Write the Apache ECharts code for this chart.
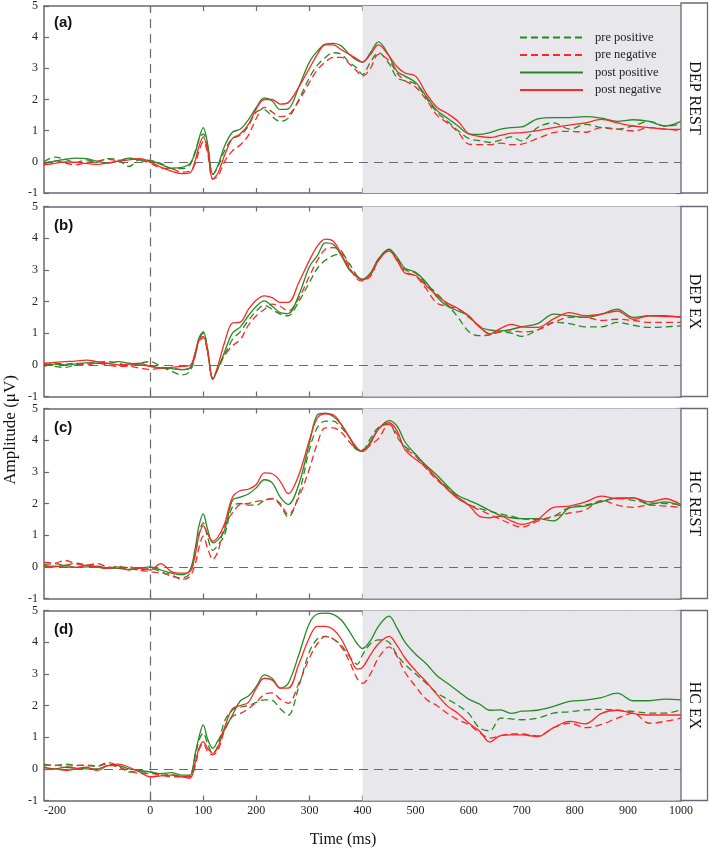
<!DOCTYPE html>
<html>
<head>
<meta charset="utf-8">
<script src="https://cdn.jsdelivr.net/npm/echarts@6/dist/echarts.min.js"></script>
<style>html,body{margin:0;padding:0;background:#fff}#c{width:709px;height:857px}</style>
</head>
<body>
<div id="c"></div>
<script>
// ---- data ----
const T = [-200,-180,-160,-140,-120,-100,-80,-60,-40,-20,
  0,20,40,60,75,85,92,100,108,118,
  128,140,155,170,185,200,215,230,245,260,
  280,300,315,330,345,360,375,390,400,415,
  430,450,465,480,500,520,540,560,580,600,
  620,640,660,680,700,730,760,790,820,850,
  880,910,940,970,1000];

const panelNames = ['DEP REST','DEP EX','HC REST','HC EX'];
const panelTags = ['(a)','(b)','(c)','(d)'];
const seriesNames = ['pre positive','pre negative','post positive','post negative'];
const xTickValues = [0,100,200,300,400,500,600,700,800,900,1000];
const xLabelValues = [-200,0,100,200,300,400,500,600,700,800,900,1000];
const shadeRange = [400,1000];

// Panel (a) DEP REST
const A_prePos = [0.0,0.15,0.08,-0.02,0.06,0.0,0.1,0.06,-0.15,0.06,
  0.04,-0.05,-0.22,-0.22,-0.1,0.35,0.7,0.9,0.5,-0.4,
  -0.15,0.35,0.75,0.85,1.15,1.6,1.67,1.45,1.3,1.4,
  2.0,2.7,3.1,3.35,3.5,3.45,3.2,3.0,2.8,3.2,
  3.5,3.15,2.7,2.6,2.5,2.05,1.6,1.3,1.0,0.75,
  0.68,0.62,0.7,0.8,0.67,1.1,1.25,1.05,1.2,1.1,
  1.05,1.15,1.3,1.15,1.2];
const A_preNeg = [-0.06,0.04,-0.04,-0.1,-0.02,0.02,0.08,0.04,0.12,0.05,
  -0.04,-0.2,-0.22,-0.33,-0.3,-0.05,0.35,0.65,0.3,-0.55,
  -0.45,0.0,0.35,0.55,0.85,1.4,1.75,1.6,1.45,1.5,
  1.95,2.55,2.95,3.2,3.35,3.35,3.15,2.9,2.75,3.0,
  3.45,3.25,2.85,2.6,2.4,2.0,1.5,1.25,0.95,0.57,
  0.55,0.55,0.6,0.55,0.57,0.75,0.94,0.98,0.95,1.1,
  1.05,0.99,1.1,1.05,1.0];
const A_postPos = [-0.06,0.02,0.08,0.12,0.1,0.02,-0.04,0.02,0.12,0.06,
  0.04,-0.08,-0.2,-0.18,-0.05,0.3,0.75,1.1,0.6,-0.4,
  -0.1,0.5,0.95,1.05,1.35,1.75,2.05,1.95,1.68,1.7,
  2.4,3.2,3.55,3.78,3.8,3.72,3.45,3.25,3.2,3.5,
  3.85,3.4,2.9,2.75,2.55,2.1,1.65,1.4,1.15,0.9,
  0.88,0.94,1.05,1.1,1.12,1.38,1.42,1.42,1.45,1.4,
  1.3,1.35,1.3,1.15,1.3];
const A_postNeg = [-0.1,-0.05,0.0,-0.02,-0.05,-0.08,-0.04,0.02,0.06,0.1,
  0.0,-0.17,-0.3,-0.38,-0.35,0.05,0.5,0.8,0.4,-0.55,
  -0.35,0.2,0.75,0.9,1.2,1.7,2.0,2.0,1.85,1.9,
  2.4,3.0,3.45,3.75,3.75,3.6,3.45,3.3,3.2,3.45,
  3.75,3.4,3.05,2.85,2.75,2.2,1.75,1.55,1.3,0.9,
  0.82,0.78,0.85,0.92,0.94,1.0,1.1,1.18,1.25,1.36,
  1.25,1.15,1.1,1.05,1.04];

// Panel (b) DEP EX
const B_prePos = [0.05,-0.05,-0.08,0.0,0.05,0.08,0.1,0.05,-0.02,0.05,
  0.1,-0.05,-0.2,-0.32,-0.2,0.3,0.8,1.0,0.5,-0.4,
  -0.1,0.3,0.8,1.05,1.4,1.7,1.88,1.75,1.6,1.55,
  2.0,2.6,3.05,3.3,3.45,3.5,3.2,2.8,2.7,2.85,
  3.3,3.65,3.35,3.0,2.9,2.55,2.25,1.9,1.5,1.05,
  0.92,0.95,1.04,1.0,0.9,1.1,1.34,1.3,1.2,1.2,
  1.34,1.25,1.18,1.2,1.23];
const B_preNeg = [0.0,0.05,0.02,0.05,0.0,0.05,0.0,-0.05,-0.05,-0.1,
  -0.15,-0.1,-0.1,-0.15,-0.1,0.3,0.75,0.85,0.4,-0.45,
  -0.1,0.3,0.6,0.8,1.25,1.55,1.75,1.92,1.85,1.7,
  2.1,2.8,3.3,3.65,3.7,3.6,3.1,2.7,2.65,2.8,
  3.3,3.6,3.3,2.95,2.8,2.4,1.95,1.85,1.76,1.5,
  1.23,0.97,1.05,1.07,1.04,1.1,1.34,1.5,1.5,1.4,
  1.44,1.4,1.34,1.34,1.34];
const B_postPos = [-0.05,0.02,0.0,0.03,0.06,0.05,0.04,0.1,0.05,0.0,
  -0.04,-0.1,-0.12,-0.15,-0.1,0.4,0.85,1.05,0.5,-0.45,
  -0.1,0.4,1.0,1.2,1.55,1.85,2.02,1.85,1.65,1.62,
  2.2,3.1,3.45,3.85,3.8,3.45,3.0,2.8,2.7,2.9,
  3.35,3.65,3.4,3.05,2.92,2.6,2.15,1.85,1.7,1.55,
  1.2,1.1,1.07,1.12,1.2,1.3,1.6,1.55,1.5,1.6,
  1.76,1.5,1.55,1.55,1.5];
const B_postNeg = [0.05,0.08,0.1,0.12,0.15,0.1,0.05,0.0,0.02,0.05,
  -0.05,-0.1,-0.08,-0.05,-0.02,0.37,0.8,0.9,0.45,-0.45,
  0.0,0.7,1.32,1.35,1.75,2.05,2.18,2.12,1.97,1.97,
  2.6,3.3,3.75,3.97,3.9,3.5,3.05,2.76,2.68,2.85,
  3.3,3.6,3.3,2.9,2.82,2.5,2.2,1.95,1.78,1.55,
  1.2,0.98,1.15,1.28,1.2,1.18,1.45,1.65,1.55,1.6,
  1.7,1.44,1.55,1.52,1.53];

// Panel (c) HC REST
const C_prePos = [0.08,0.1,0.05,0.12,0.05,0.0,-0.05,0.02,-0.05,-0.1,
  -0.05,-0.15,-0.3,-0.35,-0.2,0.4,1.05,1.39,0.95,0.52,
  0.7,1.0,1.9,2.0,1.95,1.95,2.1,2.15,1.95,1.57,
  2.3,3.7,4.4,4.6,4.6,4.4,4.1,3.7,3.7,4.05,
  4.4,4.5,4.1,3.8,3.55,3.15,2.8,2.5,2.2,1.97,
  1.85,1.75,1.67,1.6,1.52,1.5,1.6,1.88,1.95,2.07,
  2.16,2.1,2.02,2.0,1.97];
const C_preNeg = [0.15,0.12,0.2,0.1,0.05,0.1,0.0,-0.05,0.0,-0.1,
  -0.15,-0.2,-0.25,-0.4,-0.3,0.1,0.6,0.97,0.6,0.23,
  0.5,1.3,1.7,1.97,2.0,2.07,2.1,2.16,2.0,1.65,
  2.2,3.1,3.9,4.39,4.39,4.25,3.95,3.7,3.65,3.85,
  4.05,4.5,4.2,3.75,3.5,3.1,2.75,2.45,2.2,1.95,
  1.8,1.65,1.5,1.35,1.25,1.44,1.6,1.7,1.8,2.1,
  1.95,1.88,1.95,1.92,1.88];
const C_postPos = [0.0,0.02,0.0,-0.02,0.0,0.02,-0.03,-0.05,-0.08,-0.05,
  0.0,-0.1,-0.2,-0.25,-0.1,0.6,1.3,1.67,1.2,0.76,
  0.85,1.15,2.1,2.2,2.3,2.5,2.75,2.65,2.2,1.97,
  2.6,3.9,4.8,4.85,4.75,4.5,4.1,3.7,3.65,3.95,
  4.35,4.62,4.45,3.95,3.55,3.2,2.9,2.55,2.25,2.1,
  1.95,1.78,1.62,1.55,1.52,1.52,1.45,1.86,1.92,2.05,
  2.18,2.18,1.97,2.05,1.92];
const C_postNeg = [0.05,0.0,0.05,-0.02,0.05,0.0,-0.05,0.0,-0.1,-0.05,
  -0.1,0.1,-0.15,-0.2,-0.15,0.4,1.0,1.3,1.05,0.81,
  0.95,1.35,2.2,2.41,2.45,2.6,2.97,2.94,2.7,2.31,
  2.9,4.0,4.7,4.83,4.8,4.5,4.1,3.75,3.65,3.9,
  4.35,4.55,4.3,3.7,3.4,3.15,2.8,2.45,2.15,1.95,
  1.6,1.55,1.6,1.45,1.34,1.5,1.88,1.92,2.05,2.23,
  2.15,2.18,2.05,2.15,1.97];

// Panel (d) HC EX
const D_prePos = [0.15,0.1,0.15,0.12,0.1,0.08,0.2,0.1,-0.1,-0.1,
  -0.1,-0.2,-0.18,-0.25,-0.2,0.4,0.9,1.13,0.8,0.49,
  0.75,1.5,1.86,1.95,2.0,2.1,2.18,2.16,1.9,1.7,
  2.6,3.7,4.1,4.18,4.1,3.9,3.55,3.3,3.6,3.95,
  4.07,4.0,3.6,3.3,3.0,2.7,2.4,2.2,2.0,1.75,
  1.3,1.2,1.6,1.58,1.55,1.6,1.76,1.8,1.86,1.88,
  1.85,1.81,1.76,1.76,1.86];
const D_preNeg = [0.1,0.12,0.08,0.1,0.12,0.1,0.15,0.05,-0.05,-0.15,
  -0.15,-0.2,-0.25,-0.25,-0.25,0.1,0.6,0.81,0.55,0.44,
  0.6,1.2,1.65,1.75,1.9,2.1,2.35,2.4,2.2,2.07,
  2.7,3.5,3.95,4.18,4.1,3.85,3.4,2.85,2.7,3.0,
  3.5,3.85,3.55,3.05,2.6,2.2,2.0,1.75,1.55,1.4,
  1.15,0.97,1.05,1.1,1.1,1.04,1.3,1.44,1.3,1.4,
  1.6,1.76,1.44,1.5,1.6];
const D_postPos = [0.05,0.0,0.05,0.02,0.0,0.0,0.1,0.1,0.0,-0.05,
  -0.1,-0.15,-0.12,-0.2,-0.2,0.5,1.0,1.39,0.95,0.65,
  0.9,1.23,1.7,2.15,2.3,2.6,2.97,2.85,2.55,2.7,
  3.6,4.6,4.89,4.92,4.88,4.7,4.35,3.95,3.8,4.05,
  4.5,4.82,4.45,4.0,3.62,3.32,2.95,2.7,2.45,2.2,
  2.05,1.85,1.86,1.75,1.82,1.85,1.97,2.13,2.17,2.25,
  2.39,2.15,2.15,2.2,2.18];
const D_postNeg = [-0.02,0.0,-0.05,0.0,0.05,-0.05,0.1,0.15,0.05,-0.1,
  -0.25,-0.22,-0.2,-0.25,-0.3,0.2,0.65,0.86,0.65,0.49,
  0.7,1.3,1.9,2.0,2.1,2.55,2.86,2.8,2.55,2.55,
  3.3,4.15,4.5,4.5,4.4,4.1,3.6,3.15,3.2,3.6,
  3.95,4.18,3.9,3.5,3.1,2.75,2.35,1.98,1.75,1.45,
  1.2,0.85,1.05,1.07,1.07,1.02,1.3,1.5,1.42,1.75,
  1.85,1.75,1.7,1.7,1.7];

const panelData = [
  [A_prePos, A_preNeg, A_postPos, A_postNeg],
  [B_prePos, B_preNeg, B_postPos, B_postNeg],
  [C_prePos, C_preNeg, C_postPos, C_postNeg],
  [D_prePos, D_preNeg, D_postPos, D_postNeg]
];

// ---- styling / layout ----
const GREEN = '#238b23', RED = '#ff2626';
const AXIS = '#6c6776';
const SERIF = '"Liberation Serif", "Times New Roman", serif';
const gridTops = [3, 206.5, 408.5, 610.5];
const gridH = 190, gridL = 44, gridRightEdge = 681;
const seriesColors = [GREEN, RED, GREEN, RED];
const seriesDash = [[7,4],[7,4],'solid','solid'];

const grids = [], xAxes = [], yAxes = [], series = [], graphics = [];
panelNames.forEach((name, p) => {
  grids.push({left: gridL, top: gridTops[p], width: gridRightEdge - gridL, height: gridH, show: false});
  const tickStyle = {color: AXIS, width: 1.2};
  const lineStyle = {color: AXIS, width: 1.5};
  xAxes.push({
    gridIndex: p, type: 'value', min: -200, max: 1000, position: 'bottom',
    axisLine: {show: true, onZero: false, lineStyle: lineStyle},
    axisTick: {show: true, inside: true, length: 5, customValues: xTickValues, lineStyle: tickStyle},
    axisLabel: {show: p === 3, customValues: xLabelValues, margin: 4, fontFamily: SERIF, fontSize: 12, color: '#222',
      alignMinLabel: 'left', formatter: v => String(v)},
    splitLine: {show: false}
  });
  xAxes.push({
    gridIndex: p, type: 'value', min: -200, max: 1000, position: 'top',
    axisLine: {show: true, onZero: false, lineStyle: lineStyle},
    axisTick: {show: true, inside: true, length: 5, customValues: xTickValues, lineStyle: tickStyle},
    axisLabel: {show: false}, splitLine: {show: false}
  });
  yAxes.push({
    gridIndex: p, type: 'value', min: -1, max: 5, interval: 1, position: 'left',
    axisLine: {show: true, onZero: false, lineStyle: lineStyle},
    axisTick: {show: true, inside: true, length: 5, lineStyle: tickStyle},
    axisLabel: {margin: 6, fontFamily: SERIF, fontSize: 12, color: '#222'},
    splitLine: {show: false}
  });
  yAxes.push({
    gridIndex: p, type: 'value', min: -1, max: 5, interval: 1, position: 'right',
    axisLine: {show: true, onZero: false, lineStyle: lineStyle},
    axisTick: {show: true, inside: true, length: 5, lineStyle: tickStyle},
    axisLabel: {show: false}, splitLine: {show: false}
  });

  panelData[p].forEach((vals, k) => {
    const s = {
      name: seriesNames[k], type: 'line', xAxisIndex: 2 * p, yAxisIndex: 2 * p,
      data: T.map((t, i) => [t, vals[i]]),
      showSymbol: false, symbol: 'none', smooth: 0.35,
      lineStyle: {color: seriesColors[k], width: 1.3, type: seriesDash[k]},
      itemStyle: {color: seriesColors[k]},
      silent: true, animation: false, z: 5
    };
    if (k === 0) {
      s.markArea = {silent: true, itemStyle: {color: '#e8e8ec'}, z: 1,
        data: [[{xAxis: shadeRange[0]}, {xAxis: shadeRange[1]}]]};
      s.markLine = {silent: true, symbol: ['none','none'], label: {show: false},
        lineStyle: {color: AXIS, width: 1.2, type: [9,6]},
        data: [{yAxis: 0}, {xAxis: 0}]};
    }
    series.push(s);
  });

  // strip on the right
  graphics.push({type: 'rect', shape: {x: gridRightEdge, y: gridTops[p], width: 26.5, height: gridH},
    style: {fill: '#fff', stroke: AXIS, lineWidth: 1.3}, z: 10});
  graphics.push({type: 'text', x: gridRightEdge + 13.5, y: gridTops[p] + gridH / 2, rotation: -Math.PI / 2,
    style: {text: name, font: '16px ' + SERIF, fill: '#111', align: 'center', verticalAlign: 'middle'}, z: 11});
  // panel tag
  graphics.push({type: 'text', x: 54, y: gridTops[p] + 19.5,
    style: {text: panelTags[p], font: 'bold 15px "Liberation Sans", Arial, sans-serif', fill: '#111', align: 'left', verticalAlign: 'middle'}, z: 11});
});

graphics.push({type: 'text', x: 11, y: 430, rotation: Math.PI / 2,
  style: {text: 'Amplitude (μV)', font: '17px ' + SERIF, fill: '#111', align: 'center', verticalAlign: 'middle'}});
graphics.push({type: 'text', x: 343, y: 840,
  style: {text: 'Time (ms)', font: '16px ' + SERIF, fill: '#111', align: 'center', verticalAlign: 'middle'}});

const chart = echarts.init(document.getElementById('c'), null, {renderer: 'canvas'});
chart.setOption({
  animation: false,
  backgroundColor: '#fff',
  grid: grids, xAxis: xAxes, yAxis: yAxes, series: series,
  legend: {
    orient: 'vertical', left: 514, top: 26, itemWidth: 63, itemHeight: 10, itemGap: 4.5,
    data: seriesNames, selectedMode: false,
    itemStyle: {opacity: 0},
    textStyle: {fontFamily: SERIF, fontSize: 12.5, color: '#222', padding: [0, 0, 0, 7]}
  },
  graphic: graphics
});
</script>
</body>
</html>
